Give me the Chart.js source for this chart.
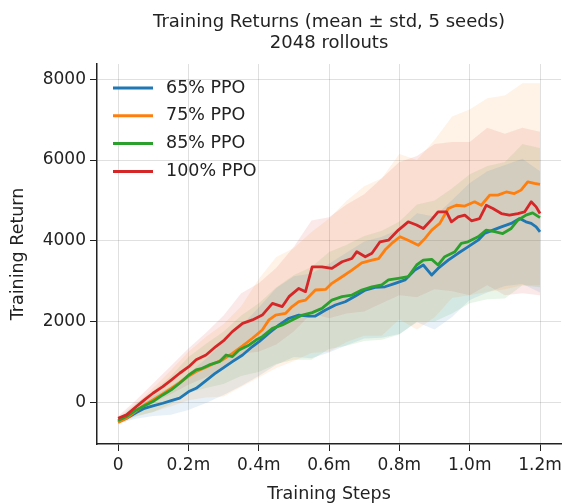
<!DOCTYPE html>
<html>
<head>
<meta charset="utf-8">
<script src="https://cdn.jsdelivr.net/npm/chart.js@4"></script>
<style>
  html, body { margin: 0; padding: 0; background: #fff; }
</style>
</head>
<body>
<canvas id="returnsChart" width="566" height="503"></canvas>
<script>
const titleLines = ['Training Returns (mean \u00b1 std, 5 seeds)', '2048 rollouts'];
const yTickValues = [0, 2000, 4000, 6000, 8000];
const xTickValues = [0, 0.2, 0.4, 0.6, 0.8, 1.0, 1.2];

// mean curves, steps in millions
const steps65 = [0,.024,.052,.075,.099,.127,.151,.175,.201,.222,.25,.274,.297,.325,.354,.382,.401,.429,.458,.486,.514,.542,.561,.59,.618,.646,.675,.703,.731,.759,.788,.816,.844,.868,.892,.91,.939,.967,.995,1.024,1.042,1.066,1.09,1.118,1.142,1.16,1.175,1.189,1.2];
const ret65 = [-480,-396,-256,-150,-90,-25,40,100,265,345,535,700,840,1005,1170,1380,1500,1710,1915,2080,2160,2135,2135,2285,2410,2490,2630,2780,2845,2860,2945,3030,3275,3400,3150,3315,3520,3690,3850,4015,4180,4265,4345,4430,4550,4470,4430,4345,4220];

const steps75 = [0,.024,.052,.075,.099,.127,.151,.175,.201,.222,.25,.274,.297,.325,.354,.382,.41,.429,.448,.476,.495,.514,.533,.561,.59,.608,.637,.665,.693,.722,.741,.759,.778,.802,.825,.854,.873,.892,.915,.939,.962,.986,1.014,1.033,1.057,1.08,1.104,1.127,1.146,1.165,1.184,1.2];
const ret75 = [-500,-396,-206,-66,58,206,345,486,650,760,865,965,1050,1210,1395,1585,1790,2040,2160,2200,2370,2490,2530,2780,2795,2945,3110,3275,3455,3520,3560,3770,3935,4100,4015,3890,4060,4265,4430,4800,4880,4860,4965,4880,5130,5130,5210,5170,5255,5460,5420,5400];

const steps85 = [0,.024,.052,.075,.099,.127,.151,.175,.201,.222,.236,.259,.288,.307,.325,.344,.373,.392,.41,.439,.467,.495,.524,.552,.58,.608,.637,.665,.693,.722,.75,.769,.797,.825,.849,.868,.892,.91,.929,.958,.976,.995,1.024,1.047,1.071,1.094,1.118,1.137,1.16,1.179,1.2];
const ret85 = [-455,-355,-190,-90,16,180,305,470,675,800,830,925,1005,1170,1130,1295,1420,1540,1625,1830,1915,2040,2160,2220,2325,2530,2615,2655,2780,2860,2905,3030,3070,3110,3400,3520,3540,3400,3605,3730,3935,3975,4100,4265,4225,4180,4305,4510,4635,4690,4575];

const steps100 = [0,.024,.052,.075,.099,.127,.151,.175,.201,.222,.25,.278,.302,.325,.354,.382,.41,.439,.467,.486,.514,.533,.552,.58,.608,.637,.665,.679,.703,.722,.745,.769,.797,.825,.849,.868,.892,.91,.934,.948,.967,.986,1.005,1.028,1.047,1.066,1.09,1.113,1.137,1.156,1.175,1.189,1.2];
const ret100 = [-396,-313,-107,58,223,388,550,718,880,1050,1170,1380,1540,1750,1955,2040,2160,2450,2370,2615,2820,2740,3355,3355,3315,3480,3560,3730,3605,3690,3975,4015,4265,4470,4390,4305,4530,4715,4715,4470,4590,4635,4495,4550,4880,4800,4675,4635,4675,4715,4965,4840,4675];

// std bands (mean +/- std) read on a coarser grid
const bandX = [0,.05,.1,.15,.2,.25,.3,.35,.4,.45,.5,.55,.6,.65,.7,.75,.8,.85,.9,.95,1.0,1.05,1.1,1.15,1.2];
const hi65 = [-430,-110,160,390,710,1080,1480,1900,2350,2830,3120,3190,3430,3710,3980,4100,4290,4680,4600,5010,5430,5720,5880,6030,5720];
const lo65 = [-530,-410,-340,-310,-190,-20,180,400,650,930,1120,1090,1230,1410,1580,1600,1690,1980,1800,2110,2530,2720,2880,2930,2720];
const hi75 = [-450,-60,360,795,1250,1620,1940,2380,3050,3600,3820,4220,4550,4990,5350,5550,6150,6000,6500,7080,7250,7530,7600,7900,7900];
const lo75 = [-550,-360,-240,-105,50,120,140,380,610,850,1020,1220,1250,1490,1650,1650,2050,1800,2100,2580,2650,2730,2800,2900,2900];
const hi85 = [-400,-30,280,650,1120,1450,1750,2150,2450,2850,3150,3350,3720,3900,4120,4250,4480,4900,5000,5300,5650,5850,5950,6400,6300];
const lo85 = [-510,-350,-240,-50,230,350,450,650,750,950,1050,1050,1320,1400,1520,1550,1680,2000,2000,2200,2450,2550,2570,2900,2850];
const hi100 = [-350,40,470,900,1330,1720,2150,2700,2950,3330,3850,4500,4580,4900,5150,5550,5950,6100,6400,6450,6450,6800,6650,6800,6700];
const lo100 = [-440,-260,-20,200,430,620,850,1200,1250,1430,1750,2200,2080,2200,2250,2450,2650,2600,2800,2750,2650,2900,2650,2700,2650];

const FONT = '"DejaVu Sans", sans-serif';
const INK = '#222';

const series = [
    { label: '65% PPO', rgb: '31,119,180', x: steps65, y: ret65, hi: hi65, lo: lo65, order: 4 },
    { label: '75% PPO', rgb: '255,127,14', x: steps75, y: ret75, hi: hi75, lo: lo75, order: 3 },
    { label: '85% PPO', rgb: '44,160,44', x: steps85, y: ret85, hi: hi85, lo: lo85, order: 2 },
    { label: '100% PPO', rgb: '214,39,40', x: steps100, y: ret100, hi: hi100, lo: lo100, order: 1 }
];

const pts = (xs, ys) => xs.map((x, i) => ({ x: x, y: ys[i] }));

const datasets = [];
series.forEach(s => {
    datasets.push({
        label: s.label,
        data: pts(s.x, s.y),
        borderColor: `rgb(${s.rgb})`,
        borderWidth: 2.8,
        borderJoinStyle: 'round',
        pointRadius: 0,
        fill: false,
        order: s.order
    });
});
series.forEach(s => {
    datasets.push({
        label: s.label + ' upper',
        data: pts(bandX, s.hi),
        borderColor: 'rgba(0,0,0,0)',
        borderWidth: 0,
        showLine: false,
        pointRadius: 0,
        backgroundColor: `rgba(${s.rgb},0.1)`,
        fill: '+1',
        order: 10
    });
    datasets.push({
        label: s.label + ' lower',
        data: pts(bandX, s.lo),
        borderColor: 'rgba(0,0,0,0)',
        borderWidth: 0,
        showLine: false,
        pointRadius: 0,
        fill: false,
        order: 10
    });
});

// title over the axes and a frameless legend in the upper left
const headerAndKey = {
    id: 'headerAndKey',
    afterDraw(chart) {
        const { ctx, chartArea } = chart;
        ctx.save();
        ctx.fillStyle = INK;
        ctx.textBaseline = 'middle';
        ctx.textAlign = 'center';
        ctx.font = `18px ${FONT}`;
        const cx = (chartArea.left + chartArea.right) / 2;
        titleLines.forEach((t, i) => ctx.fillText(t, cx, 22 + i * 21.7));

        ctx.textAlign = 'left';
        ctx.font = `17.5px ${FONT}`;
        series.forEach((s, i) => {
            const y = chartArea.top + 24 + i * 27.8;
            ctx.strokeStyle = `rgb(${s.rgb})`;
            ctx.lineWidth = 3;
            ctx.beginPath();
            ctx.moveTo(chartArea.left + 16, y);
            ctx.lineTo(chartArea.left + 56, y);
            ctx.stroke();
            ctx.fillStyle = INK;
            ctx.fillText(s.label, chartArea.left + 69, y);
        });
        ctx.restore();
    }
};

const gridStyle = { color: 'rgba(0,0,0,0.12)', tickColor: INK, tickLength: 7, lineWidth: 1 };

const returnsChart = new Chart(document.getElementById('returnsChart'), {
    type: 'line',
    data: { datasets: datasets },
    options: {
        responsive: false,
        animation: false,
        devicePixelRatio: 1,
        layout: { padding: { top: 64, right: 4, left: 0, bottom: 0 } },
        plugins: {
            legend: { display: false },
            tooltip: { enabled: false },
            filler: { propagate: false }
        },
        scales: {
            x: {
                type: 'linear',
                min: -0.06,
                max: 1.26,
                afterBuildTicks(scale) { scale.ticks = xTickValues.map(v => ({ value: v })); },
                ticks: {
                    autoSkip: false,
                    maxRotation: 0,
                    padding: 4,
                    color: INK,
                    font: { family: FONT, size: 17 },
                    callback: v => v === 0 ? '0' : v.toFixed(1) + 'm'
                },
                grid: gridStyle,
                border: { display: true, color: INK, width: 1.5 },
                title: {
                    display: true,
                    text: 'Training Steps',
                    color: INK,
                    font: { family: FONT, size: 17.5, lineHeight: 1 },
                    padding: { top: 0, bottom: 0 }
                },
                afterFit(scale) { scale.height = 59; }
            },
            y: {
                min: -1035,
                max: 8380,
                afterBuildTicks(scale) { scale.ticks = yTickValues.map(v => ({ value: v })); },
                ticks: {
                    autoSkip: false,
                    padding: 4,
                    color: INK,
                    font: { family: FONT, size: 17 },
                    callback: v => String(v)
                },
                grid: gridStyle,
                border: { display: true, color: INK, width: 1.5 },
                title: {
                    display: true,
                    text: 'Training Return',
                    color: INK,
                    font: { family: FONT, size: 17.5, lineHeight: 1 },
                    padding: { top: 10, bottom: 0 }
                },
                afterFit(scale) { scale.width = 97; }
            }
        }
    },
    plugins: [headerAndKey]
});
</script>
</body>
</html>
